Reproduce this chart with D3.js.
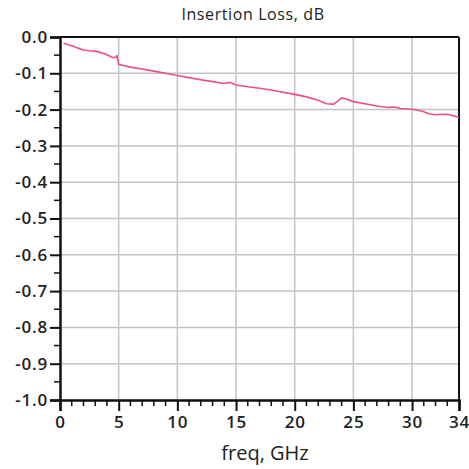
<!DOCTYPE html>
<html>
<head>
<meta charset="utf-8">
<script src="https://cdn.jsdelivr.net/npm/d3@7"></script>
<style>
  html, body { margin: 0; padding: 0; background: #fff; }
  svg text { font-family: "Open Sans", "Noto Sans", sans-serif; fill: #222; }
</style>
</head>
<body>
<div id="chart"></div>
<script>
// ---- data -------------------------------------------------------------------
const freqGHz = [0.3, 1, 1.5, 2, 2.5, 3, 3.5, 4, 4.5, 4.8, 4.85, 5.0, 5.5, 6, 7, 8, 9, 10, 11, 12,
  13, 14, 14.5, 15, 16, 17, 18, 19, 20, 21, 22, 22.7, 23.3, 23.7, 24.0, 24.4, 25, 26, 27, 28,
  28.5, 29, 30, 30.5, 31, 31.5, 32, 33, 34];
const lossDb = [-0.017, -0.024, -0.030, -0.036, -0.038, -0.039, -0.043, -0.049, -0.057, -0.055,
  -0.050, -0.075, -0.079, -0.083, -0.088, -0.094, -0.100, -0.106, -0.112, -0.118,
  -0.123, -0.128, -0.125, -0.132, -0.137, -0.141, -0.146, -0.152, -0.158, -0.165, -0.174,
  -0.184, -0.185, -0.176, -0.168, -0.171, -0.178, -0.184, -0.190, -0.194,
  -0.193, -0.197, -0.199, -0.202, -0.206, -0.212, -0.214, -0.213, -0.221];
const xTicks = [0, 5, 10, 15, 20, 25, 30, 34];
const yTicks = d3.range(0, 11).map(i => -i / 10);

// ---- layout -----------------------------------------------------------------
const W = 469, H = 469;
const m = { top: 37, right: 10, bottom: 69, left: 60 };
const iw = W - m.left - m.right, ih = H - m.top - m.bottom;

const svg = d3.select('#chart').append('svg').attr('width', W).attr('height', H);
const g = svg.append('g').attr('transform', `translate(${m.left},${m.top})`);

const x = d3.scaleLinear().domain([0, 34]).range([0, iw]);
const y = d3.scaleLinear().domain([-1, 0]).range([ih, 0]);

// grid
g.append('g').selectAll('line').data([5, 10, 15, 20, 25, 30]).join('line')
  .attr('x1', d => x(d)).attr('x2', d => x(d)).attr('y1', 0).attr('y2', ih)
  .attr('stroke', '#c4c4c4').attr('stroke-width', 1.5);
g.append('g').selectAll('line').data(yTicks.slice(1, -1)).join('line')
  .attr('y1', d => y(d)).attr('y2', d => y(d)).attr('x1', 0).attr('x2', iw)
  .attr('stroke', '#c4c4c4').attr('stroke-width', 1.5);

// frame (top + right)
g.append('line').attr('x1', 0).attr('x2', iw).attr('y1', 0).attr('y2', 0)
  .attr('stroke', '#111').attr('stroke-width', 2);
g.append('line').attr('x1', iw).attr('x2', iw).attr('y1', 0).attr('y2', ih)
  .attr('stroke', '#111').attr('stroke-width', 2);

// minor ticks
g.append('g').selectAll('line').data(d3.range(0, 35).filter(d => !xTicks.includes(d))).join('line')
  .attr('x1', d => x(d)).attr('x2', d => x(d)).attr('y1', ih).attr('y2', ih + 6)
  .attr('stroke', '#111').attr('stroke-width', 1.5);
g.append('g').selectAll('line').data(d3.range(0, 10).map(i => -0.05 - i / 10)).join('line')
  .attr('y1', d => y(d)).attr('y2', d => y(d)).attr('x1', -6).attr('x2', 0)
  .attr('stroke', '#111').attr('stroke-width', 1.5);

// axes
const xAxis = g.append('g').attr('transform', `translate(0,${ih})`)
  .call(d3.axisBottom(x).tickValues(xTicks).tickFormat(d3.format('d')).tickSize(11).tickPadding(5));
const yAxis = g.append('g')
  .call(d3.axisLeft(y).tickValues(yTicks).tickFormat(d3.format('.1f')).tickSize(10).tickPadding(2));
[xAxis, yAxis].forEach(a => {
  a.select('.domain').attr('stroke', '#111').attr('stroke-width', 2.5);
  a.selectAll('.tick line').attr('stroke', '#111').attr('stroke-width', 2);
  a.selectAll('.tick text').attr('font-size', 17).attr('font-weight', 600)
    .attr('letter-spacing', '0.8px')
    .style('font-family', '"Open Sans", sans-serif').attr('fill', '#2a2a2a');
});
yAxis.selectAll('.tick text').text(d => d3.format('.1f')(d).replace('−', '-'));

// series
g.append('path').datum(freqGHz.map((f, i) => [f, lossDb[i]]))
  .attr('fill', 'none').attr('stroke', '#ee4f80').attr('stroke-width', 1.6)
  .attr('d', d3.line().x(d => x(d[0])).y(d => y(d[1])));

// titles
svg.append('text').attr('x', 253).attr('y', 20).attr('text-anchor', 'middle')
  .attr('font-size', 16).attr('letter-spacing', '0.6px').text('Insertion Loss, dB');
svg.append('text').attr('x', 265).attr('y', 460).attr('text-anchor', 'middle')
  .attr('font-size', 20).text('freq, GHz');
</script>
</body>
</html>
